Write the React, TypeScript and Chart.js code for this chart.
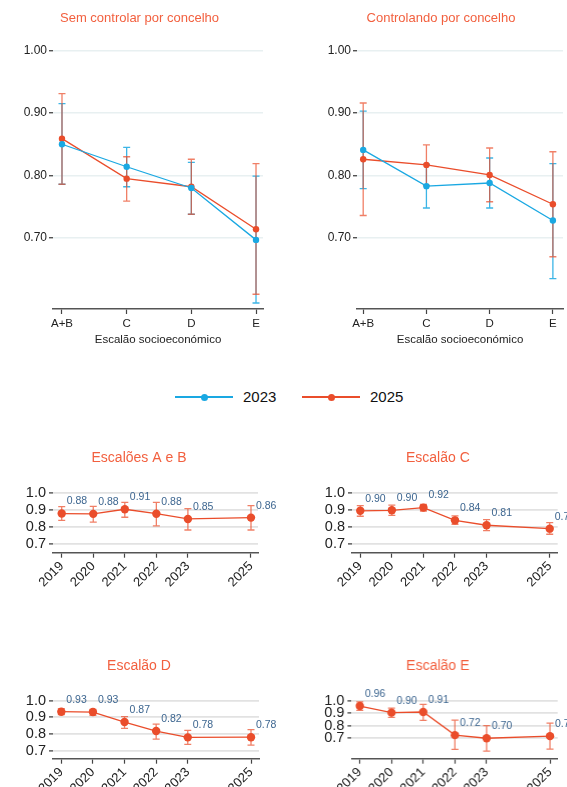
import React, { useEffect, useRef } from "react";
import { Chart, registerables } from "chart.js";

Chart.register(...registerables);

const FONT = "'Liberation Sans', Arial, Helvetica, sans-serif";
const BLUE = "#1aa8e2";
const RED = "#ea4d2b";
const BLUE_BAR = "rgba(26,168,226,0.85)";
const RED_BAR = "rgba(234,77,43,0.72)";
const TITLE_COLOR = "#f2603f";
const LABEL_COLOR = "#3d6690";

// ---------- Top panels: by socioeconomic group ----------
const groups = ["A+B", "C", "D", "E"];
const groupIdx = [0, 1, 2, 3];

const sem2023 = [0.85, 0.814, 0.78, 0.697];
const sem2023Lo = [0.786, 0.782, 0.738, 0.596];
const sem2023Hi = [0.915, 0.845, 0.821, 0.799];
const sem2025 = [0.859, 0.795, 0.782, 0.714];
const sem2025Lo = [0.786, 0.759, 0.738, 0.61];
const sem2025Hi = [0.931, 0.83, 0.826, 0.819];

const ctl2023 = [0.841, 0.783, 0.788, 0.728];
const ctl2023Lo = [0.779, 0.748, 0.748, 0.635];
const ctl2023Hi = [0.903, 0.818, 0.828, 0.819];
const ctl2025 = [0.826, 0.817, 0.801, 0.754];
const ctl2025Lo = [0.736, 0.784, 0.758, 0.67];
const ctl2025Hi = [0.916, 0.849, 0.844, 0.838];

const topTicks = [0.7, 0.8, 0.9, 1.0];

// ---------- Bottom panels: by year ----------
const years = [2019, 2020, 2021, 2022, 2023, 2025];
const yearLabels = ["2019", "2020", "2021", "2022", "2023", "2025"];

const escAB = [0.881, 0.879, 0.906, 0.88, 0.849, 0.857];
const escABLo = [0.841, 0.831, 0.859, 0.808, 0.784, 0.784];
const escABHi = [0.922, 0.923, 0.947, 0.947, 0.91, 0.927];

const escC = [0.897, 0.9, 0.916, 0.841, 0.812, 0.792];
const escCLo = [0.865, 0.87, 0.896, 0.818, 0.78, 0.759];
const escCHi = [0.927, 0.93, 0.934, 0.867, 0.845, 0.828];

const escD = [0.934, 0.932, 0.872, 0.818, 0.78, 0.781];
const escDLo = [0.916, 0.912, 0.834, 0.77, 0.738, 0.734];
const escDHi = [0.952, 0.948, 0.904, 0.86, 0.822, 0.826];

const escE = [0.957, 0.904, 0.909, 0.723, 0.698, 0.715];
const escELo = [0.922, 0.866, 0.842, 0.608, 0.594, 0.61];
const escEHi = [0.99, 0.941, 0.971, 0.844, 0.8, 0.82];

const bottomTicks = [0.7, 0.8, 0.9, 1.0];

type Series = {
  label: string;
  color: string;
  barColor: string;
  values: number[];
  lo: number[];
  hi: number[];
};

type PanelSpec = {
  left: number;
  top: number;
  width: number;
  height: number;
  title: string;
  titleSize: number;
  titleCY: number;
  area: { l: number; t: number; r: number; b: number };
  yMin: number;
  yMax: number;
  yTicks: number[];
  yDecimals: number;
  yTickSize: number;
  yTickPad: number;
  xVals: number[];
  xLabels: string[];
  xMin: number;
  xMax: number;
  xTickSize: number;
  rotate: number;
  xTickPad: number;
  xTitle?: string;
  xTitleCY?: number;
  series: Series[];
  pointRadius: number;
  capHalf: number;
  valueLabels: boolean;
  gridColor: string;
  gridWidth: number;
};

const errorBarPlugin = {
  id: "errorBars",
  beforeDatasetsDraw(chart: any) {
    const ctx = chart.ctx;
    const xs = chart.scales.x;
    const ys = chart.scales.y;
    chart.data.datasets.forEach((ds: any) => {
      ctx.save();
      ctx.strokeStyle = ds.errColor;
      ctx.lineWidth = ds.errWidth || 1.3;
      const cap = ds.capHalf || 3.5;
      ds.data.forEach((p: any, i: number) => {
        const x = xs.getPixelForValue(p.x);
        const yl = ys.getPixelForValue(ds.errLo[i]);
        const yh = ys.getPixelForValue(ds.errHi[i]);
        ctx.beginPath();
        ctx.moveTo(x, yl);
        ctx.lineTo(x, yh);
        ctx.moveTo(x - cap, yl);
        ctx.lineTo(x + cap, yl);
        ctx.moveTo(x - cap, yh);
        ctx.lineTo(x + cap, yh);
        ctx.stroke();
      });
      ctx.restore();
    });
  },
};

const valueLabelPlugin = {
  id: "valueLabels",
  afterDatasetsDraw(chart: any, _args: any, opts: any) {
    if (!opts || !opts.display) return;
    const ctx = chart.ctx;
    const xs = chart.scales.x;
    const ys = chart.scales.y;
    ctx.save();
    ctx.fillStyle = opts.color;
    ctx.font = `${opts.size}px ${FONT}`;
    ctx.textAlign = "left";
    ctx.textBaseline = "middle";
    chart.data.datasets.forEach((ds: any) => {
      ds.data.forEach((p: any) => {
        const x = xs.getPixelForValue(p.x);
        const y = ys.getPixelForValue(p.y);
        ctx.fillText(p.y.toFixed(2), x + opts.dx, y + opts.dy);
      });
    });
    ctx.restore();
  },
};

function Panel({ spec }: { spec: PanelSpec }) {
  const ref = useRef<HTMLCanvasElement | null>(null);
  useEffect(() => {
    if (!ref.current) return;
    const titleLH = spec.titleSize * 1.2;
    const tPadTop = spec.titleCY - spec.top - titleLH / 2;
    const tPadBottom = spec.area.t - spec.top - tPadTop - titleLH;
    const yWidth = spec.area.l - spec.left;
    const padRight = spec.left + spec.width - spec.area.r;
    let layoutPadBottom = 0;
    let xHeight = spec.top + spec.height - spec.area.b;
    const xtSize = 11.5;
    if (spec.xTitle && spec.xTitleCY) {
      const xtBottom = spec.xTitleCY + (xtSize * 1.2) / 2;
      layoutPadBottom = spec.top + spec.height - xtBottom;
      xHeight = xtBottom - spec.area.b;
    }
    const chart = new Chart(ref.current, {
      type: "line",
      data: {
        datasets: spec.series.map((s) => ({
          label: s.label,
          data: s.values.map((v, i) => ({ x: spec.xVals[i], y: v })),
          borderColor: s.color,
          backgroundColor: s.color,
          pointBackgroundColor: s.color,
          pointBorderColor: s.color,
          pointBorderWidth: 0,
          pointRadius: spec.pointRadius,
          borderWidth: 1.3,
          tension: 0,
          clip: false,
          errLo: s.lo,
          errHi: s.hi,
          errColor: s.barColor,
          capHalf: spec.capHalf,
        })) as any,
      },
      options: {
        responsive: false,
        animation: false,
        layout: { padding: { left: 0, top: 0, right: padRight, bottom: layoutPadBottom } },
        plugins: {
          legend: { display: false },
          tooltip: { enabled: false },
          title: {
            display: true,
            text: spec.title,
            color: TITLE_COLOR,
            font: { family: FONT, size: spec.titleSize, weight: "normal" as any, lineHeight: 1.2 },
            padding: { top: tPadTop, bottom: tPadBottom },
          },
          valueLabels: {
            display: spec.valueLabels,
            color: LABEL_COLOR,
            size: 10.5,
            dx: 5,
            dy: -12,
          },
        } as any,
        scales: {
          x: {
            type: "linear",
            min: spec.xMin,
            max: spec.xMax,
            afterBuildTicks: (sc: any) => {
              sc.ticks = spec.xVals.map((v) => ({ value: v }));
            },
            afterFit: (sc: any) => {
              sc.height = xHeight;
              sc.paddingLeft = 0;
              sc.paddingRight = 0;
            },
            ticks: {
              autoSkip: false,
              maxRotation: spec.rotate,
              minRotation: spec.rotate,
              padding: spec.xTickPad,
              color: "#222",
              font: { family: FONT, size: spec.xTickSize },
              callback: (_v: any, i: number) => spec.xLabels[i],
            },
            grid: {
              drawOnChartArea: false,
              drawTicks: true,
              tickLength: 5,
              tickColor: "#444",
              tickWidth: 1.2,
            },
            border: { display: true, color: "#555", width: 1.5 },
            title: spec.xTitle
              ? {
                  display: true,
                  text: spec.xTitle,
                  color: "#222",
                  font: { family: FONT, size: xtSize, lineHeight: 1.2 },
                  padding: 0,
                }
              : { display: false },
          } as any,
          y: {
            type: "linear",
            min: spec.yMin,
            max: spec.yMax,
            afterBuildTicks: (sc: any) => {
              sc.ticks = spec.yTicks.map((v) => ({ value: v }));
            },
            afterFit: (sc: any) => {
              sc.width = yWidth;
              sc.paddingTop = 0;
              sc.paddingBottom = 0;
            },
            ticks: {
              padding: spec.yTickPad,
              color: "#222",
              font: { family: FONT, size: spec.yTickSize },
              callback: (v: any) => Number(v).toFixed(spec.yDecimals),
            },
            grid: {
              color: spec.gridColor,
              lineWidth: spec.gridWidth,
              drawTicks: true,
              tickLength: 4,
              tickColor: "#333",
              tickWidth: 1.2,
            },
            border: { display: false },
          } as any,
        },
      },
      plugins: [errorBarPlugin, valueLabelPlugin],
    });
    return () => chart.destroy();
  }, [spec]);
  return (
    <canvas
      ref={ref}
      width={spec.width}
      height={spec.height}
      style={{
        position: "absolute",
        left: spec.left,
        top: spec.top,
        width: spec.width,
        height: spec.height,
      }}
    />
  );
}

const topYMax = 1.0 + 12.5 / 625;
const topYMin = 0.7 - 71 / 625;

const panels: PanelSpec[] = [
  {
    left: 16, top: 0, width: 263, height: 352,
    title: "Sem controlar por concelho", titleSize: 13, titleCY: 18,
    area: { l: 53, t: 38, r: 263, b: 309 },
    yMin: topYMin, yMax: topYMax, yTicks: topTicks, yDecimals: 2, yTickSize: 12, yTickPad: 2,
    xVals: groupIdx, xLabels: groups, xMin: -0.139, xMax: 3.108, xTickSize: 11.5, rotate: 0, xTickPad: 3,
    xTitle: "Escalão socioeconómico", xTitleCY: 340,
    series: [
      { label: "2023", color: BLUE, barColor: BLUE_BAR, values: sem2023, lo: sem2023Lo, hi: sem2023Hi },
      { label: "2025", color: RED, barColor: RED_BAR, values: sem2025, lo: sem2025Lo, hi: sem2025Hi },
    ],
    pointRadius: 3.2, capHalf: 3.5, valueLabels: false, gridColor: "#e8f0f1", gridWidth: 1.5,
  },
  {
    left: 315, top: 0, width: 252, height: 352,
    title: "Controlando por concelho", titleSize: 13, titleCY: 18,
    area: { l: 357, t: 38, r: 567, b: 309 },
    yMin: topYMin, yMax: topYMax, yTicks: topTicks, yDecimals: 2, yTickSize: 12, yTickPad: 2,
    xVals: groupIdx, xLabels: groups, xMin: -0.098, xMax: 3.16, xTickSize: 11.5, rotate: 0, xTickPad: 3,
    xTitle: "Escalão socioeconómico", xTitleCY: 340,
    series: [
      { label: "2023", color: BLUE, barColor: BLUE_BAR, values: ctl2023, lo: ctl2023Lo, hi: ctl2023Hi },
      { label: "2025", color: RED, barColor: RED_BAR, values: ctl2025, lo: ctl2025Lo, hi: ctl2025Hi },
    ],
    pointRadius: 3.2, capHalf: 3.5, valueLabels: false, gridColor: "#e8f0f1", gridWidth: 1.5,
  },
  {
    left: 20, top: 440, width: 258, height: 150,
    title: "Escalões A e B", titleSize: 14, titleCY: 458,
    area: { l: 53, t: 486, r: 258, b: 552.7 },
    yMin: 0.7 - 8.4 / 170, yMax: 1.0 + 7.3 / 170, yTicks: bottomTicks, yDecimals: 1, yTickSize: 14.5, yTickPad: 3,
    xVals: years, xLabels: yearLabels, xMin: 2018.724, xMax: 2025.222, xTickSize: 13, rotate: 45, xTickPad: 1,
    series: [{ label: "AB", color: RED, barColor: RED_BAR, values: escAB, lo: escABLo, hi: escABHi }],
    pointRadius: 4.2, capHalf: 3.5, valueLabels: true, gridColor: "#e2e2e2", gridWidth: 1.8,
  },
  {
    left: 317.7, top: 440, width: 249.3, height: 150,
    title: "Escalão C", titleSize: 14, titleCY: 458,
    area: { l: 351.7, t: 486, r: 557.7, b: 552.7 },
    yMin: 0.7 - 8.4 / 170, yMax: 1.0 + 7.3 / 170, yTicks: bottomTicks, yDecimals: 1, yTickSize: 14.5, yTickPad: 3,
    xVals: years, xLabels: yearLabels, xMin: 2018.738, xMax: 2025.253, xTickSize: 13, rotate: 45, xTickPad: 1,
    series: [{ label: "C", color: RED, barColor: RED_BAR, values: escC, lo: escCLo, hi: escCHi }],
    pointRadius: 4.2, capHalf: 3.5, valueLabels: true, gridColor: "#e2e2e2", gridWidth: 1.8,
  },
  {
    left: 19, top: 650, width: 259, height: 137,
    title: "Escalão D", titleSize: 14, titleCY: 666,
    area: { l: 53, t: 693, r: 259, b: 758.7 },
    yMin: 0.7 - 8 / 166.7, yMax: 1.0 + 7.7 / 166.7, yTicks: bottomTicks, yDecimals: 1, yTickSize: 14.5, yTickPad: 3,
    xVals: years, xLabels: yearLabels, xMin: 2018.737, xMax: 2025.253, xTickSize: 13, rotate: 45, xTickPad: 1,
    series: [{ label: "D", color: RED, barColor: RED_BAR, values: escD, lo: escDLo, hi: escDHi }],
    pointRadius: 4.2, capHalf: 3.5, valueLabels: true, gridColor: "#e2e2e2", gridWidth: 1.8,
  },
  {
    left: 318.3, top: 650, width: 248.7, height: 137,
    title: "Escalão E", titleSize: 14, titleCY: 666,
    area: { l: 351.7, t: 693, r: 557.7, b: 758.7 },
    yMin: 0.7 - 20.7 / 124.3, yMax: 1.0 + 7.7 / 124.3, yTicks: bottomTicks, yDecimals: 1, yTickSize: 14.5, yTickPad: 3,
    xVals: years, xLabels: yearLabels, xMin: 2018.738, xMax: 2025.243, xTickSize: 13, rotate: 45, xTickPad: 1,
    series: [{ label: "E", color: RED, barColor: RED_BAR, values: escE, lo: escELo, hi: escEHi }],
    pointRadius: 4.2, capHalf: 3.5, valueLabels: true, gridColor: "#e2e2e2", gridWidth: 1.8,
  },
];

const legendItems = [
  { label: "2023", color: BLUE, lineLeft: 175, textLeft: 243 },
  { label: "2025", color: RED, lineLeft: 302, textLeft: 370 },
];

function Legend() {
  const cy = 397;
  return (
    <>
      {legendItems.map((it) => (
        <React.Fragment key={it.label}>
          <div
            style={{
              position: "absolute",
              left: it.lineLeft,
              top: cy - 0.75,
              width: 58,
              height: 1.5,
              background: it.color,
            }}
          />
          <div
            style={{
              position: "absolute",
              left: it.lineLeft + 29 - 3.5,
              top: cy - 3.5,
              width: 7,
              height: 7,
              borderRadius: "50%",
              background: it.color,
            }}
          />
          <div
            style={{
              position: "absolute",
              left: it.textLeft,
              top: cy - 10,
              height: 20,
              lineHeight: "20px",
              fontFamily: FONT,
              fontSize: 15,
              color: "#111",
            }}
          >
            {it.label}
          </div>
        </React.Fragment>
      ))}
    </>
  );
}

export default function App() {
  return (
    <div
      style={{
        position: "absolute",
        left: 0,
        top: 0,
        width: 567,
        height: 787,
        overflow: "hidden",
        background: "#fff",
      }}
    >
      {panels.map((p, i) => (
        <Panel key={i} spec={p} />
      ))}
      <Legend />
    </div>
  );
}
